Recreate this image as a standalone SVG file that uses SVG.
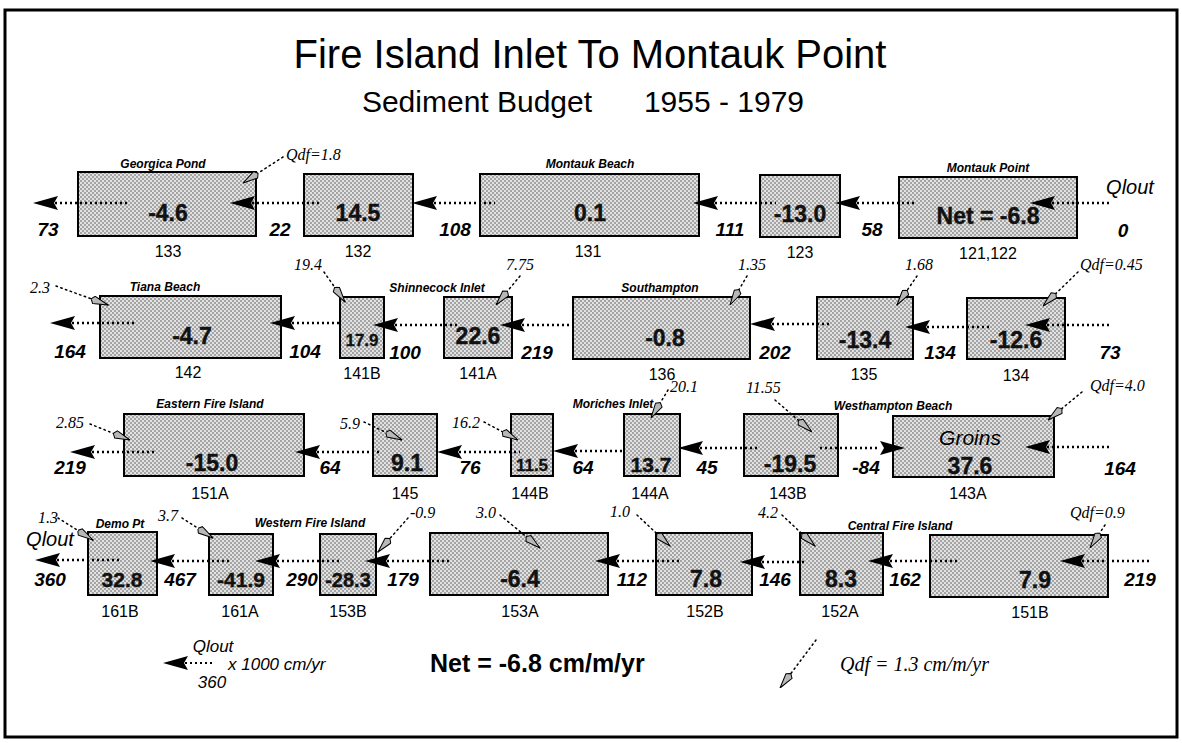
<svg xmlns="http://www.w3.org/2000/svg" width="1182" height="743" viewBox="0 0 1182 743">
<defs>
<pattern id="stip" width="4" height="4" patternUnits="userSpaceOnUse">
<rect width="4" height="4" fill="#e2e2e2"/>
<circle cx="1" cy="1" r="0.8" fill="#555"/>
<circle cx="3" cy="3" r="0.8" fill="#555"/>
</pattern>
<marker id="qdf" markerUnits="userSpaceOnUse" viewBox="0 0 18 9" refX="18" refY="4.5" markerWidth="18" markerHeight="9" orient="auto">
<path d="M18,4.5 L3,0.7 L0,4.5 L3,8.3 Z" fill="#b8b8b8" stroke="#000" stroke-width="1"/>
</marker>
<path id="ah" d="M0,0 L25,-7 L21,0 L25,7 Z" fill="#000"/>
<path id="ahr" d="M0,0 L-25,-7 L-21,0 L-25,7 Z" fill="#000"/>
</defs>
<style>
.box{fill:url(#stip);stroke:#000;stroke-width:2}
.val{font-family:"Liberation Sans",Arial,sans-serif;font-weight:bold;font-size:23px;text-anchor:middle;fill:#111;stroke:#111;stroke-width:0.4}
.vals{font-family:"Liberation Sans",Arial,sans-serif;font-weight:bold;font-size:17px;text-anchor:middle;fill:#111;stroke:#111;stroke-width:0.3}
.id{font-family:"Liberation Sans",Arial,sans-serif;font-size:16px;text-anchor:middle;fill:#000}
.flow{font-family:"Liberation Sans",Arial,sans-serif;font-weight:bold;font-style:italic;font-size:19px;text-anchor:middle;fill:#000}
.area{font-family:"Liberation Sans",Arial,sans-serif;font-weight:bold;font-style:italic;font-size:12px;text-anchor:middle;fill:#000}
.q{font-family:"Liberation Serif","Times New Roman",serif;font-style:italic;font-size:16px;fill:#000}
.dot{stroke:#000;stroke-width:2.5;stroke-dasharray:2 3;fill:none}
.ptr{stroke:#000;stroke-width:1.5;stroke-dasharray:1.5 3.5;stroke-linecap:round;fill:none;marker-end:url(#qdf)}
.title{font-family:"Liberation Sans",Arial,sans-serif;fill:#000;text-anchor:middle}
.lg{font-family:"Liberation Sans",Arial,sans-serif;font-style:italic;font-size:18px;fill:#000}
</style>
<rect x="0" y="0" width="1182" height="743" fill="#fff"/>
<rect x="5" y="10" width="1172" height="727" fill="none" stroke="#000" stroke-width="3"/>

<g id="title">
<text class="title" x="590" y="68" font-size="40">Fire Island Inlet To Montauk Point</text>
<text class="title" x="477" y="112" font-size="30">Sediment Budget</text>
<text class="title" x="724" y="112" font-size="30">1955 - 1979</text>
</g>

<!-- Row 1 -->
<g id="n133"><rect class="box" x="78" y="172" width="178" height="64"/><text class="area" x="163" y="168">Georgica Pond</text><text class="val" x="168" y="221">-4.6</text><text class="id" x="168" y="257">133</text></g>
<g id="n132"><rect class="box" x="304" y="174" width="109" height="62"/><text class="val" x="358" y="221">14.5</text><text class="id" x="358" y="257">132</text></g>
<g id="n131"><rect class="box" x="480" y="174" width="219" height="62"/><text class="area" x="590" y="168">Montauk Beach</text><text class="val" x="590" y="221">0.1</text><text class="id" x="588" y="257">131</text></g>
<g id="n123"><rect class="box" x="760" y="175" width="80" height="62"/><text class="val" x="800" y="222">-13.0</text><text class="id" x="800" y="258">123</text></g>
<g id="n121"><rect class="box" x="899" y="177" width="178" height="61"/><text class="area" x="988" y="172">Montauk Point</text><text class="val" x="988" y="224">Net = -6.8</text><text class="id" x="988" y="259">121,122</text></g>

<!-- Row 2 -->
<g id="n142"><rect class="box" x="100" y="296" width="181" height="62"/><text class="area" x="165" y="291">Tiana Beach</text><text class="val" x="192" y="344">-4.7</text><text class="id" x="188" y="378">142</text></g>
<g id="n141B"><rect class="box" x="340" y="297" width="44" height="61"/><text class="vals" x="362" y="346">17.9</text><text class="id" x="362" y="379">141B</text></g>
<g id="n141A"><rect class="box" x="444" y="297" width="68" height="61"/><text class="area" x="437" y="292">Shinnecock Inlet</text><text class="val" x="478" y="344">22.6</text><text class="id" x="478" y="379">141A</text></g>
<g id="n136"><rect class="box" x="573" y="297" width="177" height="62"/><text class="area" x="660" y="292">Southampton</text><text class="val" x="665" y="346">-0.8</text><text class="id" x="662" y="380">136</text></g>
<g id="n135"><rect class="box" x="817" y="297" width="96" height="62"/><text class="val" x="865" y="348">-13.4</text><text class="id" x="864" y="380">135</text></g>
<g id="n134"><rect class="box" x="967" y="298" width="98" height="61"/><text class="val" x="1016" y="348">-12.6</text><text class="id" x="1016" y="381">134</text></g>

<!-- Row 3 -->
<g id="n151A"><rect class="box" x="124" y="414" width="180" height="62"/><text class="area" x="210" y="408">Eastern Fire Island</text><text class="val" x="212" y="471">-15.0</text><text class="id" x="210" y="499">151A</text></g>
<g id="n145"><rect class="box" x="373" y="414" width="64" height="62"/><text class="val" x="407" y="471">9.1</text><text class="id" x="405" y="499">145</text></g>
<g id="n144B"><rect class="box" x="511" y="414" width="42" height="62"/><text class="area" x="613" y="408">Moriches Inlet</text><text class="vals" x="532" y="471">11.5</text><text class="id" x="530" y="499">144B</text></g>
<g id="n144A"><rect class="box" x="624" y="414" width="56" height="62"/><text class="val" x="651" y="472" style="font-size:21px">13.7</text><text class="id" x="650" y="499">144A</text></g>
<g id="n143B"><rect class="box" x="744" y="414" width="94" height="62"/><text class="val" x="790" y="472">-19.5</text><text class="id" x="788" y="499">143B</text></g>
<g id="n143A"><rect class="box" x="893" y="416" width="161" height="61"/><text class="area" x="893" y="410">Westhampton Beach</text><text x="970" y="445" font-family="Liberation Sans,Arial,sans-serif" font-style="italic" font-size="21" text-anchor="middle">Groins</text><text class="val" x="970" y="474">37.6</text><text class="id" x="968" y="499">143A</text></g>

<!-- Row 4 -->
<g id="n161B"><rect class="box" x="88" y="532" width="69" height="63"/><text class="area" x="120" y="528">Demo Pt</text><text class="val" x="122" y="587" style="font-size:21px">32.8</text><text class="id" x="120" y="617">161B</text></g>
<g id="n161A"><rect class="box" x="209" y="534" width="64" height="61"/><text class="area" x="310" y="527">Western Fire Island</text><text class="val" x="241" y="587" style="font-size:21px">-41.9</text><text class="id" x="240" y="617">161A</text></g>
<g id="n153B"><rect class="box" x="320" y="534" width="56" height="61"/><text class="val" x="348" y="587" style="font-size:20px">-28.3</text><text class="id" x="348" y="617">153B</text></g>
<g id="n153A"><rect class="box" x="430" y="533" width="178" height="62"/><text class="val" x="520" y="587">-6.4</text><text class="id" x="520" y="617">153A</text></g>
<g id="n152B"><rect class="box" x="656" y="533" width="96" height="62"/><text class="val" x="706" y="587">7.8</text><text class="id" x="705" y="617">152B</text></g>
<g id="n152A"><rect class="box" x="800" y="533" width="83" height="62"/><text class="val" x="841" y="587">8.3</text><text class="id" x="840" y="617">152A</text></g>
<g id="n151B"><rect class="box" x="930" y="535" width="178" height="62"/><text class="area" x="900" y="530">Central Fire Island</text><text class="val" x="1035" y="588">7.9</text><text class="id" x="1030" y="618">151B</text></g>

<g id="connectors">
<!-- longshore transport arrows -->
<path class="dot" d="M55,203H130M252,203H320M434,203H495M715,203H776M857,203H915M1052,203H1110"/>
<use href="#ah" x="33" y="203"/><use href="#ah" x="230" y="203"/><use href="#ah" x="412" y="203"/><use href="#ah" x="693" y="203"/><use href="#ah" x="835" y="203"/><use href="#ah" x="1030" y="203"/>

<path class="dot" d="M72,323H135M292,323H340M395,325H460M522,325H575M772,324H830M927,327H990M1047,325H1112"/>
<use href="#ah" x="50" y="323"/><use href="#ah" x="270" y="323"/><use href="#ah" x="373" y="325"/><use href="#ah" x="500" y="325"/><use href="#ah" x="750" y="324"/><use href="#ah" x="905" y="327"/><use href="#ah" x="1025" y="325"/>

<path class="dot" d="M92,452H155M317,452H380M459,452H520M575,451H625M700,448H760M820,448H880M1047,447H1112"/>
<use href="#ah" x="70" y="452"/><use href="#ah" x="295" y="452"/><use href="#ah" x="437" y="452"/><use href="#ah" x="553" y="451"/><use href="#ah" x="678" y="448"/><use href="#ahr" x="905" y="448"/><use href="#ah" x="1025" y="447"/>

<path class="dot" d="M57,560H120M172,561H230M277,561H340M387,561H450M617,561H680M762,562H805M890,561H960M1082,561H1150"/>
<use href="#ah" x="35" y="560"/><use href="#ah" x="150" y="561"/><use href="#ah" x="255" y="561"/><use href="#ah" x="365" y="561"/><use href="#ah" x="595" y="561"/><use href="#ah" x="740" y="562"/><use href="#ah" x="868" y="561"/><use href="#ah" x="1060" y="561"/>

<!-- Qdf pointers -->
<path class="ptr" d="M283,157L243,183"/>
<path class="ptr" d="M56,286L108,305"/>
<path class="ptr" d="M324,272L345,302"/>
<path class="ptr" d="M520,276L496,305"/>
<path class="ptr" d="M747,276L730,305"/>
<path class="ptr" d="M917,276L897,305"/>
<path class="ptr" d="M1078,272L1043,306"/>
<path class="ptr" d="M90,424L130,440"/>
<path class="ptr" d="M364,422L402,440"/>
<path class="ptr" d="M484,422L518,440"/>
<path class="ptr" d="M668,390L651,418"/>
<path class="ptr" d="M775,400L812,432"/>
<path class="ptr" d="M1082,392L1048,420"/>
<path class="ptr" d="M58,518L93,540"/>
<path class="ptr" d="M182,518L213,538"/>
<path class="ptr" d="M408,518L378,552"/>
<path class="ptr" d="M500,515L540,548"/>
<path class="ptr" d="M637,515L670,546"/>
<path class="ptr" d="M782,515L815,546"/>
<path class="ptr" d="M1105,525L1090,548"/>
<!-- legend connectors -->
<path class="dot" d="M185,663H215" style="stroke-width:2"/>
<use href="#ah" x="163" y="663"/>
<path class="ptr" d="M816,640L780,688"/>
</g>

<g id="labels">
<text class="q" x="286" y="160">Qdf=1.8</text>
<text class="q" x="30" y="293">2.3</text>
<text class="q" x="294" y="270">19.4</text>
<text class="q" x="506" y="270">7.75</text>
<text class="q" x="738" y="270">1.35</text>
<text class="q" x="905" y="270">1.68</text>
<text class="q" x="1080" y="270">Qdf=0.45</text>
<text class="q" x="56" y="428">2.85</text>
<text class="q" x="340" y="429">5.9</text>
<text class="q" x="452" y="428">16.2</text>
<text class="q" x="670" y="392">20.1</text>
<text class="q" x="746" y="393">11.55</text>
<text class="q" x="1090" y="391">Qdf=4.0</text>
<text class="q" x="38" y="523">1.3</text>
<text class="q" x="158" y="521">3.7</text>
<text class="q" x="410" y="518">-0.9</text>
<text class="q" x="476" y="518">3.0</text>
<text class="q" x="610" y="517">1.0</text>
<text class="q" x="758" y="518">4.2</text>
<text class="q" x="1070" y="518">Qdf=0.9</text>

<text class="flow" x="48" y="236">73</text>
<text class="flow" x="280" y="236">22</text>
<text class="flow" x="455" y="236">108</text>
<text class="flow" x="730" y="236">111</text>
<text class="flow" x="872" y="236">58</text>
<text class="flow" x="1123" y="237">0</text>
<text class="flow" x="1130" y="194" style="font-weight:normal;font-size:20px">Qlout</text>

<text class="flow" x="70" y="358">164</text>
<text class="flow" x="305" y="358">104</text>
<text class="flow" x="405" y="359">100</text>
<text class="flow" x="537" y="359">219</text>
<text class="flow" x="775" y="359">202</text>
<text class="flow" x="940" y="359">134</text>
<text class="flow" x="1110" y="359">73</text>

<text class="flow" x="70" y="474">219</text>
<text class="flow" x="330" y="474">64</text>
<text class="flow" x="470" y="474">76</text>
<text class="flow" x="583" y="474">64</text>
<text class="flow" x="707" y="474">45</text>
<text class="flow" x="866" y="474">-84</text>
<text class="flow" x="1120" y="475">164</text>

<text class="flow" x="50" y="586">360</text>
<text class="flow" x="50" y="546" style="font-weight:normal;font-size:20px">Qlout</text>
<text class="flow" x="180" y="586">467</text>
<text class="flow" x="302" y="586">290</text>
<text class="flow" x="403" y="586">179</text>
<text class="flow" x="632" y="586">112</text>
<text class="flow" x="775" y="586">146</text>
<text class="flow" x="905" y="586">162</text>
<text class="flow" x="1140" y="586">219</text>
</g>

<g id="legend">
<text class="lg" x="213" y="652" text-anchor="middle" style="font-size:17px">Qlout</text>
<text class="lg" x="212" y="688" text-anchor="middle" style="font-size:17px">360</text>
<text class="lg" x="228" y="670" style="font-size:17px">x 1000 cm/yr</text>
<text x="430" y="672" font-family="Liberation Sans,Arial,sans-serif" font-weight="bold" font-size="25" fill="#000">Net = -6.8 cm/m/yr</text>
<text x="840" y="671" font-family="Liberation Serif,Times New Roman,serif" font-style="italic" font-size="20" fill="#000">Qdf = 1.3 cm/m/yr</text>
</g>
</svg>
